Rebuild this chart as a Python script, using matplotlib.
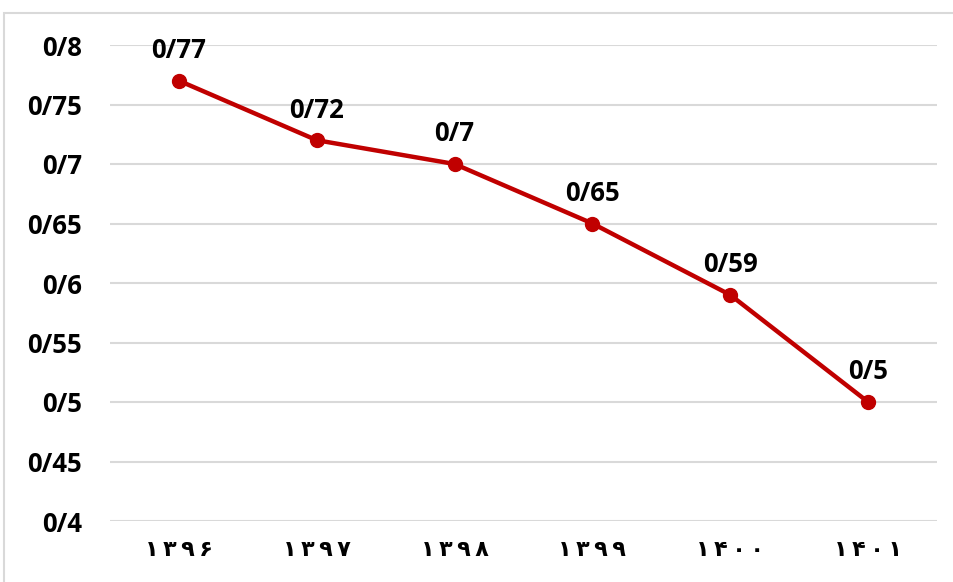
import matplotlib
matplotlib.use("Agg")
import matplotlib.pyplot as plt
from matplotlib.patches import Rectangle

years = ["۱۳۹۶", "۱۳۹۷", "۱۳۹۸", "۱۳۹۹", "۱۴۰۰", "۱۴۰۱"]
values = [0.77, 0.72, 0.70, 0.65, 0.59, 0.50]
labels = ["0/77", "0/72", "0/7", "0/65", "0/59", "0/5"]
yticks = [0.4, 0.45, 0.5, 0.55, 0.6, 0.65, 0.7, 0.75, 0.8]
ytick_labels = ["0/4", "0/45", "0/5", "0/55", "0/6", "0/65", "0/7", "0/75", "0/8"]

FONT = ["Open Sans", "DejaVu Sans"]

fig = plt.figure(figsize=(9.54, 5.82), dpi=100)
fig.patches.append(Rectangle((4/954, -0.1), 1.2, 1 - 13/582 + 0.1, transform=fig.transFigure,
                             fill=False, edgecolor="#D9D9D9", linewidth=1.5))
ax = fig.add_axes([110/954, 1 - 521/582, 827/954, (521 - 45)/582])

x = list(range(len(years)))
ax.plot(x, values, color="#C00000", linewidth=3.2, marker="o", markersize=10, zorder=3)
for xi, v, lab in zip(x, values, labels):
    ax.annotate(lab, (xi, v), xytext=(0, 12), textcoords="offset points",
                ha="center", va="bottom", fontsize=18.5, fontweight="bold",
                family=FONT, color="black")

ax.set_xlim(-0.5, len(years) - 0.5)
ax.set_ylim(0.4, 0.8)
ax.set_yticks(yticks)
ax.set_yticklabels(ytick_labels, fontsize=18.5, fontweight="bold", family=FONT)
ax.set_xticks(x)
ax.set_xticklabels(["\u2009".join(y) for y in years], fontsize=16, fontweight="bold",
                   family=["DejaVu Sans"])
ax.tick_params(axis="both", length=0)
ax.tick_params(axis="y", pad=20)
ax.tick_params(axis="x", pad=14)
ax.grid(axis="y", color="#D9D9D9", linewidth=1.5)
ax.set_axisbelow(True)
for s in ax.spines.values():
    s.set_visible(False)

fig.savefig("out.png", dpi=100)
